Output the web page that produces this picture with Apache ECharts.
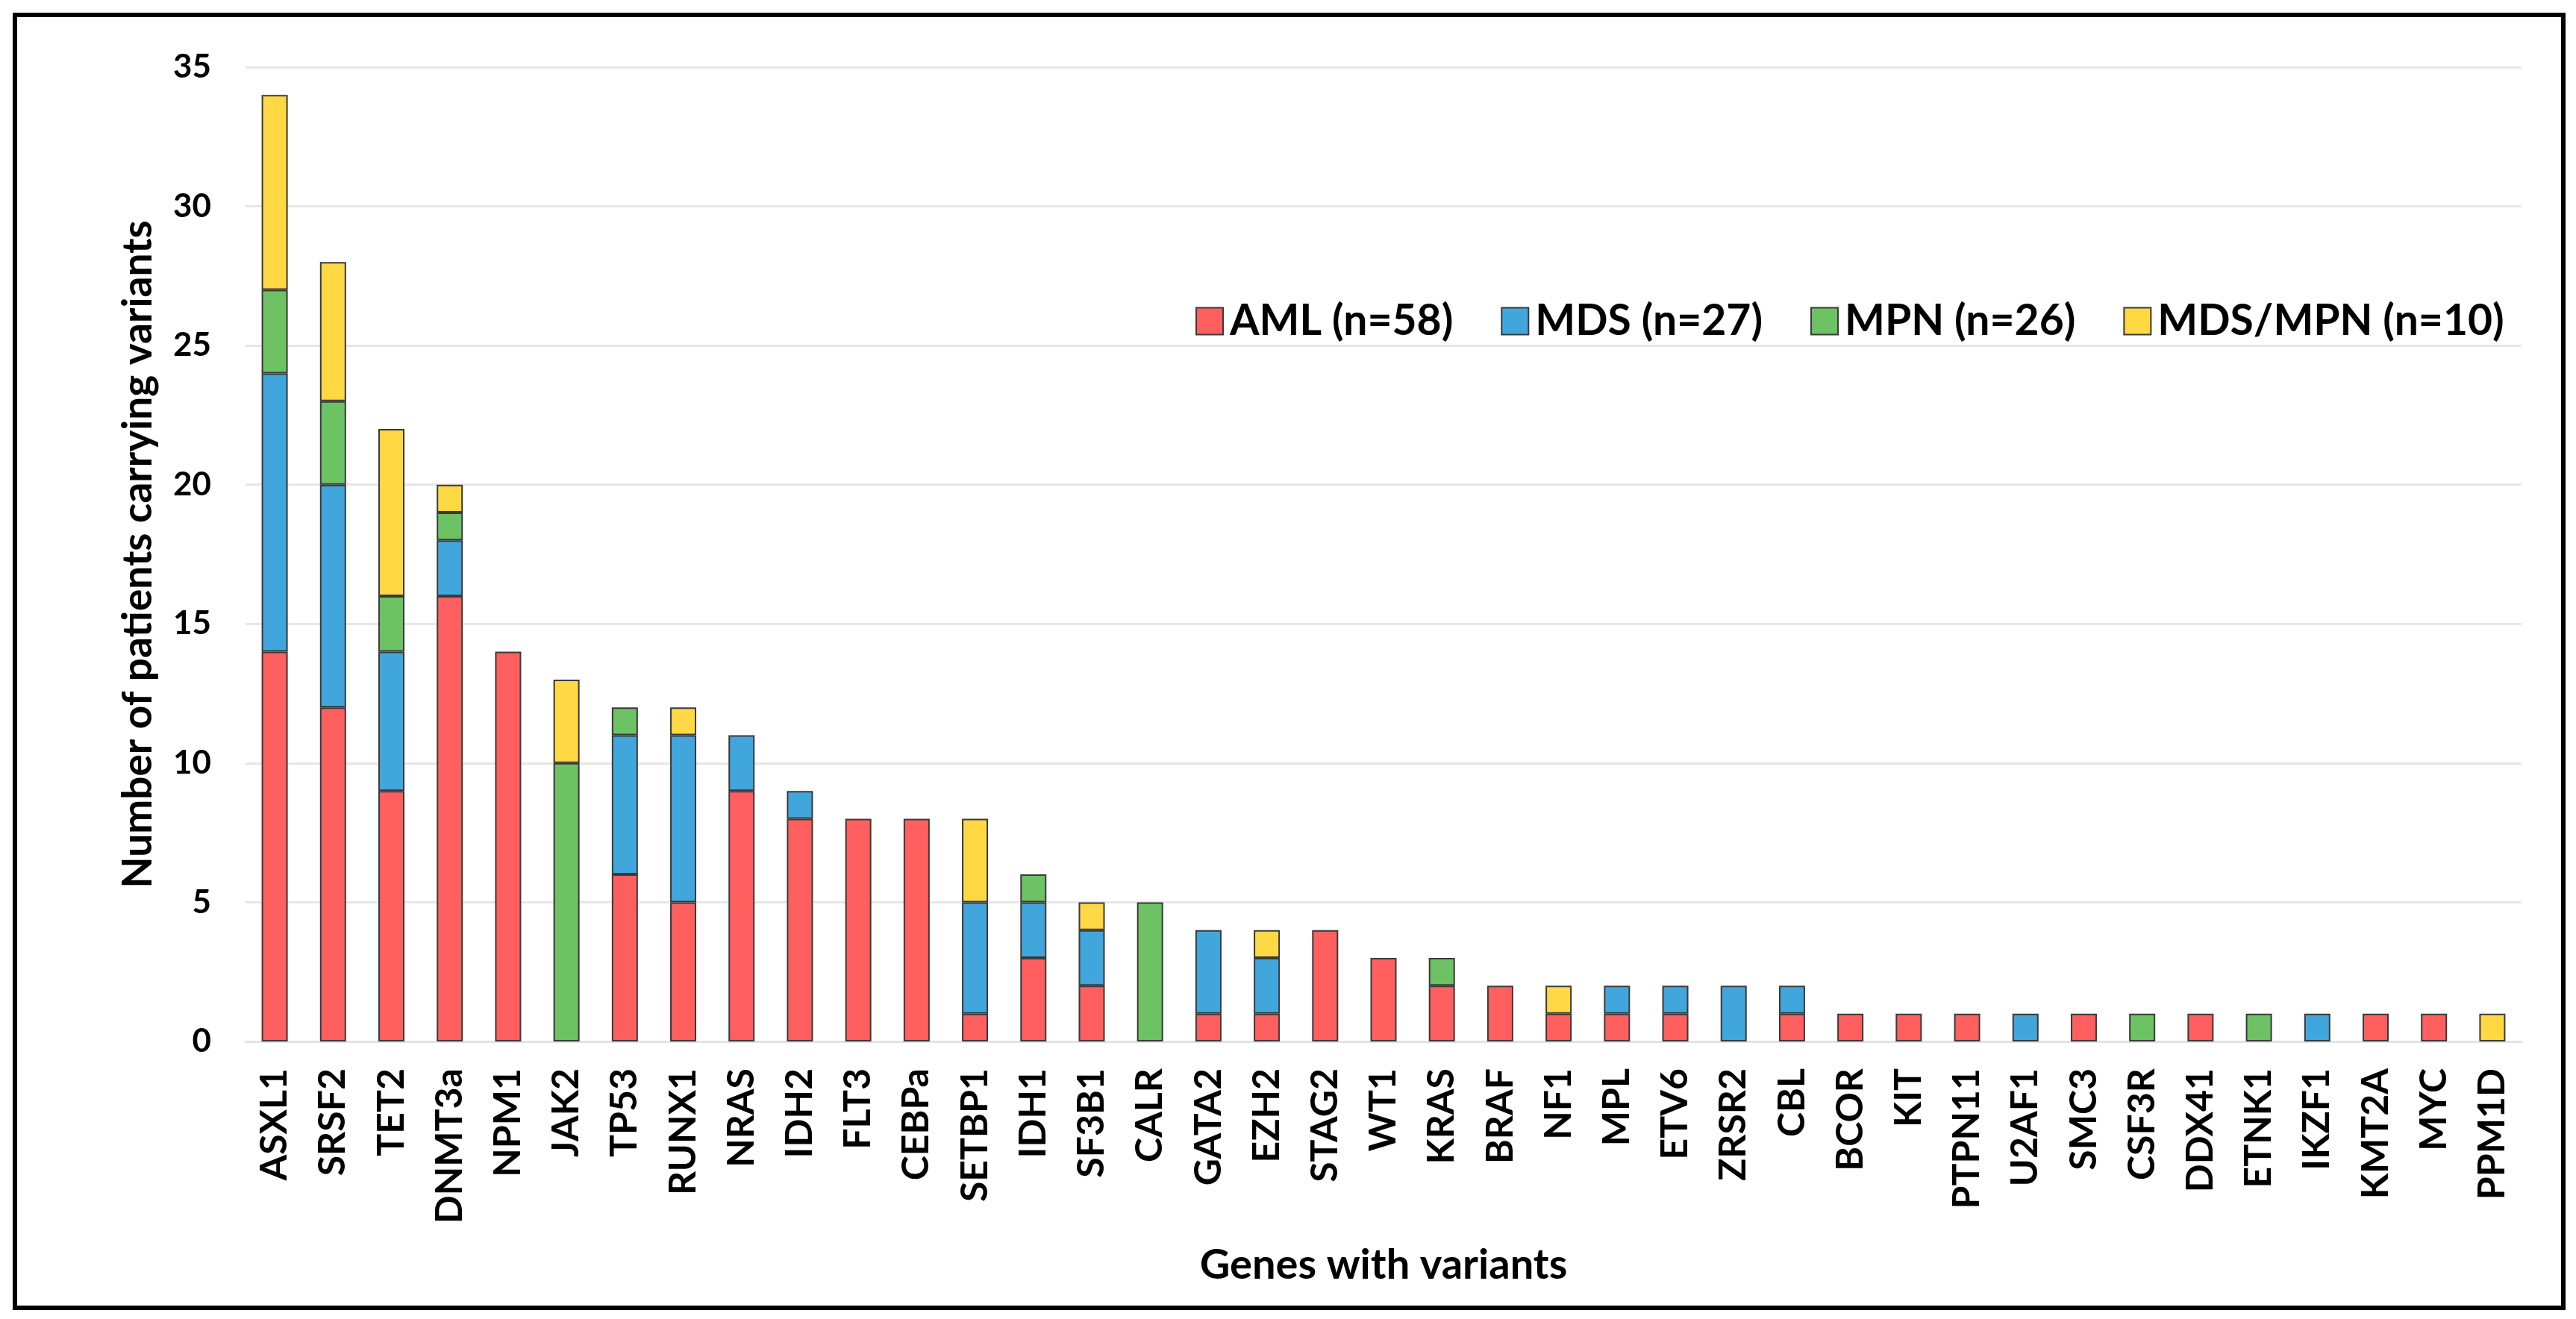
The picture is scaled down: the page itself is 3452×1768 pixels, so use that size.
<!DOCTYPE html>
<html>
<head>
<meta charset="utf-8">
<script src="https://cdn.jsdelivr.net/npm/echarts@6/dist/echarts.min.js"></script>
<style>
html,body{margin:0;padding:0;background:#fff;}
#chart{width:3452px;height:1768px;}
</style>
</head>
<body>
<div id="chart"></div>
<script>
const genes = ['ASXL1','SRSF2','TET2','DNMT3a','NPM1','JAK2','TP53','RUNX1','NRAS','IDH2','FLT3','CEBPa','SETBP1','IDH1','SF3B1','CALR','GATA2','EZH2','STAG2','WT1','KRAS','BRAF','NF1','MPL','ETV6','ZRSR2','CBL','BCOR','KIT','PTPN11','U2AF1','SMC3','CSF3R','DDX41','ETNK1','IKZF1','KMT2A','MYC','PPM1D'];
const aml    = [14,12,9,16,14,0,6,5,9,8,8,8,1,3,2,0,1,1,4,3,2,2,1,1,1,0,1,1,1,1,0,1,0,1,0,0,1,1,0];
const mds    = [10,8,5,2,0,0,5,6,2,1,0,0,4,2,2,0,3,2,0,0,0,0,0,1,1,2,1,0,0,0,1,0,0,0,0,1,0,0,0];
const mpn    = [3,3,2,1,0,10,1,0,0,0,0,0,0,1,0,5,0,0,0,0,1,0,0,0,0,0,0,0,0,0,0,0,1,0,1,0,0,0,0];
const mdsmpn = [7,5,6,1,0,3,0,1,0,0,0,0,3,0,1,0,0,1,0,0,0,0,1,0,0,0,0,0,0,0,0,0,0,0,0,0,0,0,1];
const seriesNames = ['AML (n=58)','MDS (n=27)','MPN (n=26)','MDS/MPN (n=10)'];
const yTicks = [0,5,10,15,20,25,30,35];

const colors = ['#FF5F5F','#41A6DC','#6DC264','#FFD843'];
const FONT = 'Lato';
const toNull = a => a.map(v => v === 0 ? null : v);
const allData = [aml, mds, mpn, mdsmpn];

const chart = echarts.init(document.getElementById('chart'));
chart.setOption({
  backgroundColor: '#ffffff',
  animation: false,
  textStyle: {fontFamily: FONT, fontWeight: 'bold', color: '#000'},
  graphic: [{
    type: 'rect', left: 17, top: 17,
    shape: {width: 3415, height: 1733},
    style: {fill: 'none', stroke: '#000', lineWidth: 6},
    silent: true
  }],
  legend: {
    left: 1597, top: 397,
    itemWidth: 36, itemHeight: 36, itemGap: 64,
    icon: 'rect',
    textStyle: {fontFamily: FONT, fontWeight: 'bold', fontSize: 57, color: '#000', padding: [0,0,0,4]},
    data: seriesNames
  },
  grid: {left: 329, right: 73, top: 90, bottom: 372, containLabel: false},
  xAxis: {
    type: 'category',
    data: genes,
    name: 'Genes with variants',
    nameLocation: 'middle',
    nameGap: 272,
    nameTextStyle: {fontFamily: FONT, fontWeight: 'bold', fontSize: 56, color: '#000'},
    axisLine: {lineStyle: {color: '#E3E3E3', width: 3}},
    axisTick: {show: false},
    axisLabel: {rotate: 90, interval: 0, margin: 36, fontFamily: FONT, fontWeight: 'bold', fontSize: 50, color: '#000'}
  },
  yAxis: {
    type: 'value',
    min: yTicks[0], max: yTicks[yTicks.length-1], interval: 5,
    name: 'Number of patients carrying variants',
    nameLocation: 'middle',
    nameGap: 116,
    nameTextStyle: {fontFamily: FONT, fontWeight: 'bold', fontSize: 55, color: '#000'},
    axisLine: {show: false},
    axisTick: {show: false},
    axisLabel: {margin: 46, fontFamily: FONT, fontWeight: 'bold', fontSize: 44, color: '#000'},
    splitLine: {lineStyle: {color: '#E6E6E6', width: 3}}
  },
  series: seriesNames.map((n, i) => ({
    name: n,
    type: 'bar',
    stack: 'total',
    barWidth: 35,
    data: toNull(allData[i]),
    itemStyle: {color: colors[i], borderColor: '#3a3a3a', borderWidth: 2}
  }))
});
</script>
</body>
</html>
